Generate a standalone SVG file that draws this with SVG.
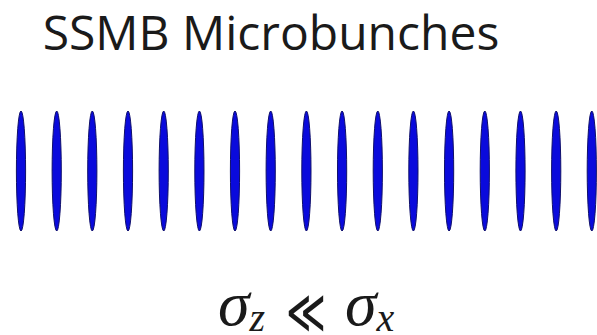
<svg xmlns="http://www.w3.org/2000/svg" width="597" height="335" viewBox="0 0 597 335">
<style>
.t{font-family:"Open Sans","Noto Sans",sans-serif;font-size:48px;fill:#1a1a1a}
.m{font-family:"Liberation Serif","DejaVu Serif",serif;font-style:italic;fill:#1a1a1a}
.r{font-family:"DejaVu Sans",sans-serif;font-weight:200;fill:#1a1a1a}
.b{fill:#0a0adc;stroke:#10106a;stroke-width:1}
</style>
<rect width="597" height="335" fill="#ffffff"/>
<g id="title"><text class="t" x="271" y="50" text-anchor="middle">SSMB Microbunches</text></g>
<g id="bunches">
<ellipse class="b" cx="21" cy="171" rx="4.6" ry="60"/>
<ellipse class="b" cx="56.7" cy="171" rx="4.6" ry="60"/>
<ellipse class="b" cx="92.3" cy="171" rx="4.6" ry="60"/>
<ellipse class="b" cx="128" cy="171" rx="4.6" ry="60"/>
<ellipse class="b" cx="163.7" cy="171" rx="4.6" ry="60"/>
<ellipse class="b" cx="199.4" cy="171" rx="4.6" ry="60"/>
<ellipse class="b" cx="235" cy="171" rx="4.6" ry="60"/>
<ellipse class="b" cx="270.7" cy="171" rx="4.6" ry="60"/>
<ellipse class="b" cx="306.4" cy="171" rx="4.6" ry="60"/>
<ellipse class="b" cx="342.1" cy="171" rx="4.6" ry="60"/>
<ellipse class="b" cx="377.8" cy="171" rx="4.6" ry="60"/>
<ellipse class="b" cx="413.4" cy="171" rx="4.6" ry="60"/>
<ellipse class="b" cx="449.1" cy="171" rx="4.6" ry="60"/>
<ellipse class="b" cx="484.8" cy="171" rx="4.6" ry="60"/>
<ellipse class="b" cx="520.5" cy="171" rx="4.6" ry="60"/>
<ellipse class="b" cx="556.2" cy="171" rx="4.6" ry="60"/>
<ellipse class="b" cx="591.8" cy="171" rx="4.6" ry="60"/>
</g>
<g id="formula">
<text class="m" y="325"><tspan x="218" font-size="64">σ</tspan><tspan font-size="40" dy="6">z</tspan></text>
<text class="r" x="286" y="333" font-size="62" textLength="40" lengthAdjust="spacingAndGlyphs">≪</text>
<text class="m" y="325"><tspan x="345" font-size="64">σ</tspan><tspan font-size="40" dy="6">x</tspan></text>
</g>
</svg>
